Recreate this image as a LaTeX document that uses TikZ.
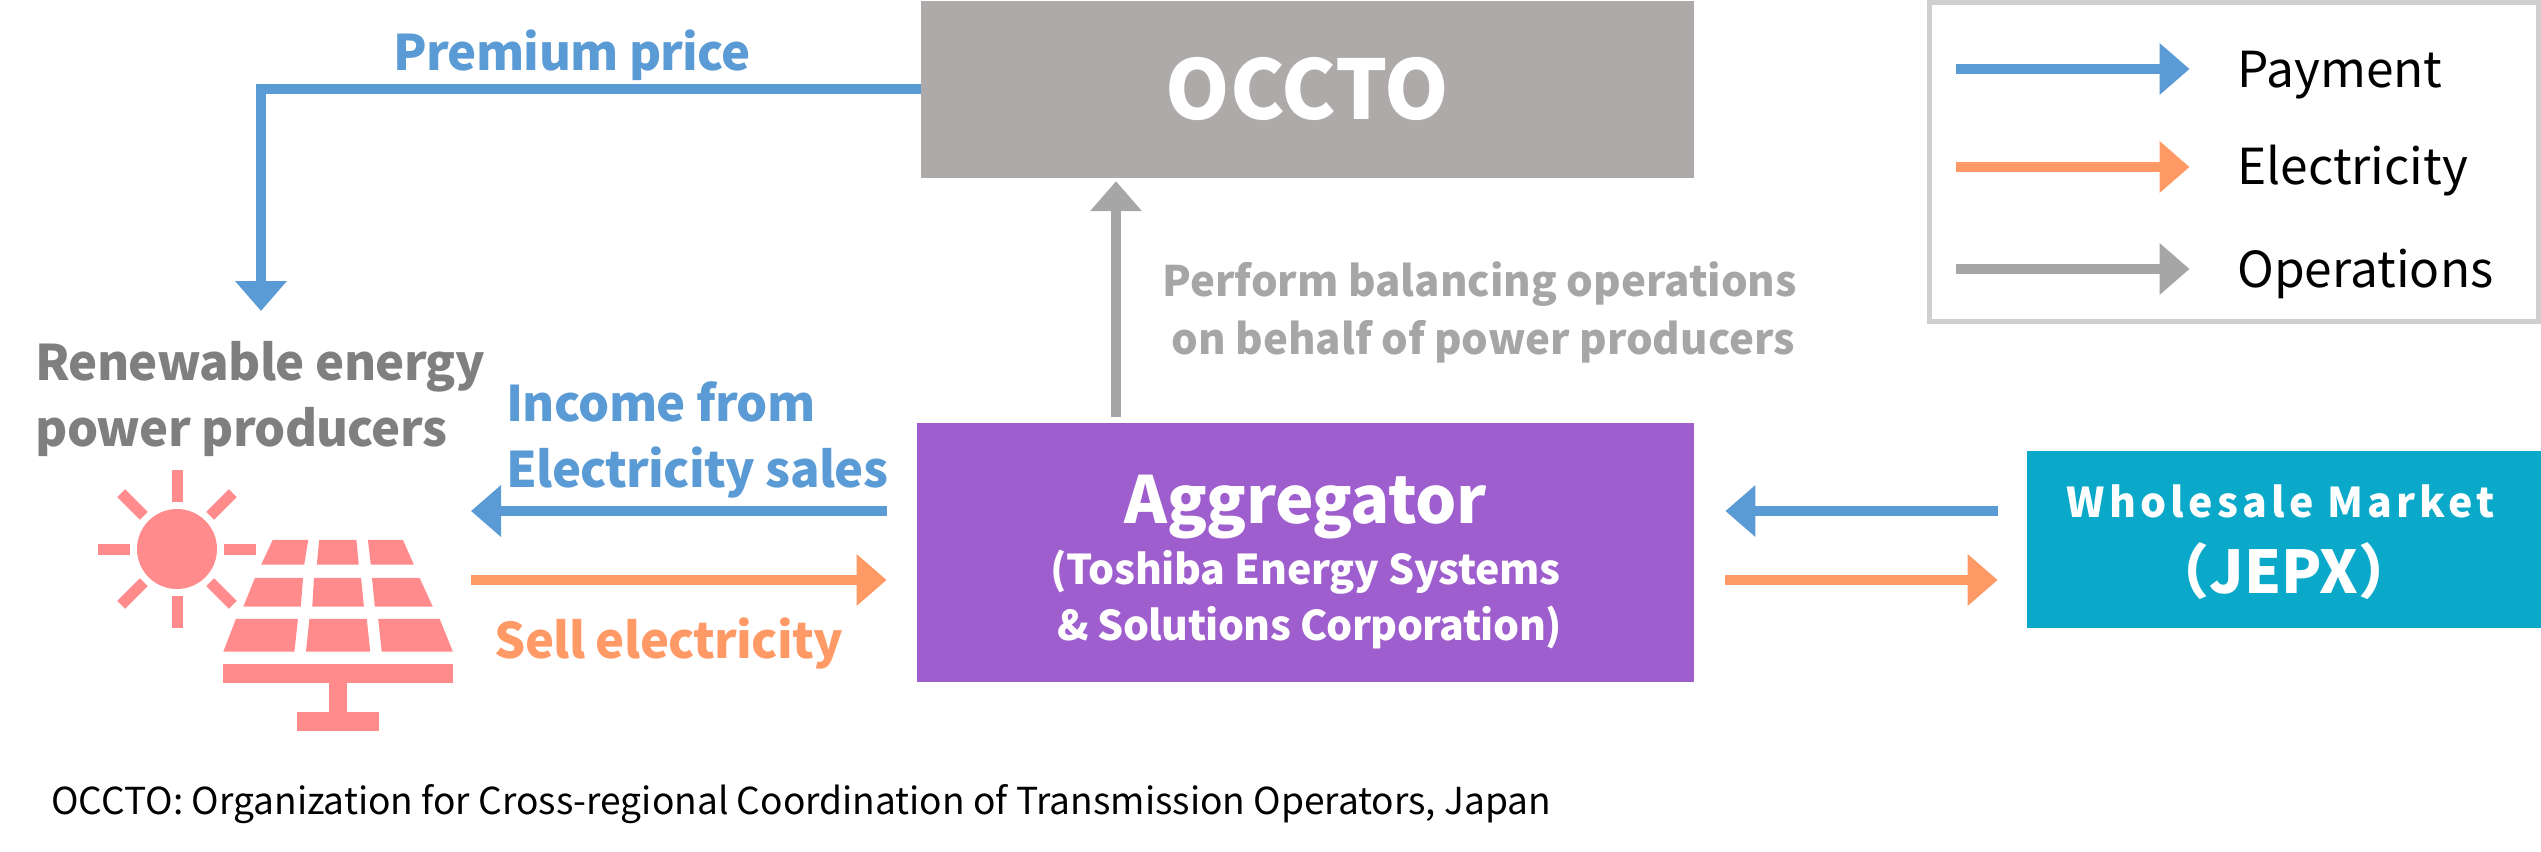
\documentclass[tikz,border=0pt]{standalone}
\usepackage{fontspec}
\usetikzlibrary{arrows.meta,calc}
\setmainfont{Noto Sans CJK JP}
\newfontfamily\wsfont[LetterSpace=10.2]{Noto Sans CJK JP}
\newfontfamily\tight[LetterSpace=-1.4]{Noto Sans CJK JP}
\newfontfamily\semi[LetterSpace=-0.7]{Noto Sans CJK JP}
\definecolor{paycol}{HTML}{5B9BD5}
\definecolor{eleccol}{HTML}{FF9966}
\definecolor{opcol}{HTML}{A6A6A6}
\definecolor{pvcol}{HTML}{FF8B8D}
\definecolor{occtocol}{HTML}{AEAAAA}
\definecolor{aggcol}{HTML}{9E5ECE}
\definecolor{jepxcol}{HTML}{0AA8C9}
\definecolor{legcol}{HTML}{D0CECE}
\definecolor{prodcol}{HTML}{7F7F7F}
\newcommand{\fs}[1]{\fontsize{#1}{#1}\selectfont}
\tikzset{
  flow/.style={line width=5pt,-{Triangle[length=15pt,width=25pt]}},
  payflow/.style={flow,draw=paycol},
  elecflow/.style={flow,draw=eleccol},
  opflow/.style={flow,draw=opcol},
  boxnode/.style={inner sep=0pt,text=white,font=\bfseries,align=center},
  lab/.style={inner sep=0pt,anchor=base west},
  biglab/.style={lab,font=\fontsize{24.5}{24.5}\tight\bfseries},
  midlab/.style={lab,font=\fontsize{21}{21}\selectfont\bfseries,text=opcol},
  legtext/.style={lab,font=\fontsize{24.8}{24.8}\selectfont,text=black},
  pv/.style={fill=pvcol,draw=none},
  ray/.style={draw=pvcol,line width=5.5pt},
}
\begin{document}
\begin{tikzpicture}[x=0.5pt,y=-0.5pt]
\useasboundingbox (0,0) rectangle (2541,851);

% boxes
\node[boxnode,fill=occtocol,minimum width=386.5pt,minimum height=88.5pt] (occto) at (1307.5,89.3)
  {\fs{41}OCCTO};
\node[boxnode,fill=aggcol,minimum width=388.5pt,minimum height=129.3pt] (agg) at (1305.5,552.3)
  {\rule{0pt}{34pt}\semi\fs{32.5}\bfseries Aggregator\\[4.5pt]\semi\fs{20.5}\bfseries (Toshiba Energy Systems\\[4.5pt]\hspace*{4pt}\tight\fs{20.5}\bfseries\& Solutions Corporation)};
\node[boxnode,fill=jepxcol,minimum width=257pt,minimum height=88.5pt] (jepx) at (2284,539.5)
  {\rule{0pt}{19pt}\wsfont\fs{20.5}\bfseries Wholesale Market\hspace*{3.2pt}\\[11.5pt]\fs{29.5}\normalfont\bfseries （JEPX）};

% labels
\node[biglab,text=paycol] (premium) at (393,70) {Premium price};
\node[biglab,text=prodcol] (prod1) at (35,380) {Renewable energy};
\node[biglab,text=prodcol] (prod2) at (35,446) {power producers};
\node[biglab,text=paycol] (income1) at (506,421) {Income from};
\node[biglab,text=paycol] (income2) at (506,487) {Electricity sales};
\node[biglab,text=eleccol] (sell) at (494,658) {Sell electricity};
\node[midlab] (perf1) at (1162,296) {Perform balancing operations};
\node[midlab] (perf2) at (1171,354) {on behalf of power producers};
\node[lab,font=\fontsize{18.55}{18.55}\selectfont,text=black] (note) at (51,814.5)
  {OCCTO: Organization for Cross-regional Coordination of Transmission Operators, Japan};

% connectors
\coordinate (prodtip) at (261,311);
\draw[payflow] (occto.west) -| (prodtip);
\coordinate (opx) at (1116,0);
\draw[opflow,shorten <=3pt,shorten >=1.5pt] (agg.north -| opx) -- (occto.south -| opx);
\coordinate (pvpay) at (471,511);
\coordinate (pvsell) at (471,580);
\draw[payflow,shorten <=15pt] (agg.west |- pvpay) -- (pvpay);
\draw[elecflow,shorten >=15pt] (pvsell) -- (agg.west |- pvsell);
\coordinate (mkpay) at (1998,511);
\coordinate (mksell) at (1725,580);
\draw[payflow,shorten >=15.5pt,shorten <=14.5pt] (jepx.west |- mkpay) -- (agg.east |- mkpay);
\draw[elecflow,shorten <=15.5pt,shorten >=14.5pt] (agg.east |- mksell) -- (jepx.west |- mksell);

% legend
\node[draw=legcol,line width=2.5pt,fill=white,inner sep=0pt,minimum width=304.75pt,minimum height=159.25pt] (legend) at (2233.75,161.75) {};
\coordinate (la1) at (1956,69); \coordinate (lb1) at (2189.5,69);
\coordinate (la2) at (1956,167); \coordinate (lb2) at (2189.5,167);
\coordinate (la3) at (1956,269); \coordinate (lb3) at (2189.5,269);
\draw[payflow] (la1) -- (lb1);
\draw[elecflow] (la2) -- (lb2);
\draw[opflow] (la3) -- (lb3);
\node[legtext] (lt1) at (2237,87) {Payment};
\node[legtext] (lt2) at (2237,184) {Electricity};
\node[legtext] (lt3) at (2237,287) {Operations};

% sun
\fill[pvcol] (177,549) circle[radius=40];
\foreach \a in {0,45,...,315}{
  \draw[ray] ($(177,549)+(\a:47)$) -- ($(177,549)+(\a:79)$);
}

% solar panel, in zoom units
\begin{scope}[shift={(0,420)},xscale=0.574,yscale=0.3333]
  \fill[pv] (475,360)--(537,360)--(530,434)--(455,434)--cycle;
  \fill[pv] (556,360)--(621,360)--(625,434)--(552,434)--cycle;
  \fill[pv] (641,360)--(702,360)--(721,434)--(646,434)--cycle;
  \fill[pv] (444,474)--(528,474)--(524,560)--(424,560)--cycle;
  \fill[pv] (547,474)--(629,474)--(634,560)--(544,560)--cycle;
  \fill[pv] (648,474)--(731,474)--(754,560)--(653,560)--cycle;
  \fill[pv] (411,597)--(519,597)--(513,695)--(389,695)--cycle;
  \fill[pv] (539,597)--(639,597)--(645,695)--(533,695)--cycle;
  \fill[pv] (659,597)--(766,597)--(789,695)--(665,695)--cycle;
  \fill[pv] (389,732) rectangle (789,790);
  \fill[pv] (574,790) rectangle (605,877);
  \fill[pv] (517,877) rectangle (661,932);
\end{scope}
\end{tikzpicture}
\end{document}
